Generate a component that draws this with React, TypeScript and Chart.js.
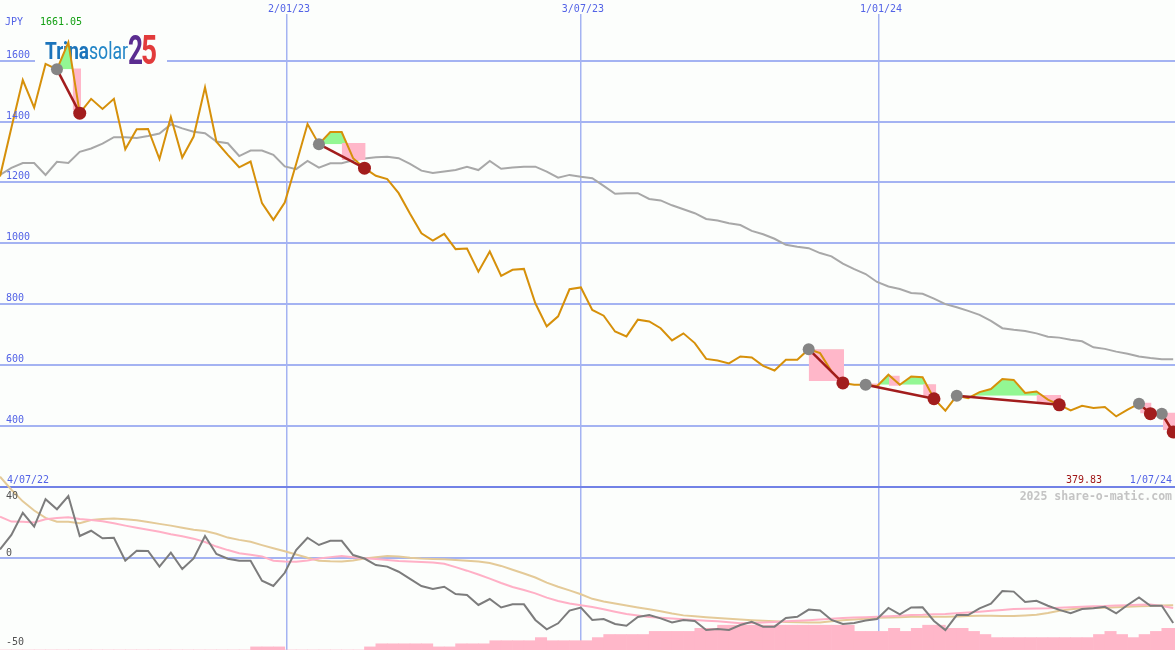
import React, { useEffect, useRef } from 'react';
import { Chart, registerables } from 'chart.js';

Chart.register(...registerables);

// ---------------- data ----------------
// weekly closes (JPY), week index 0 .. 103
const price = [
  1220, 1380, 1537, 1446, 1590, 1572, 1661.05, 1428, 1475, 1442,
  1475, 1309, 1375, 1376, 1277, 1415, 1282, 1351, 1513, 1334,
  1291, 1250, 1269, 1132, 1077, 1134, 1261, 1392, 1326, 1366,
  1366, 1280, 1247, 1222, 1211, 1165, 1097, 1033, 1009, 1031,
  981, 983, 907, 973, 893, 913, 916, 803, 727, 760,
  849, 855, 781, 762, 710, 694, 749, 743, 721, 681,
  704, 672, 620, 615, 605, 628, 625, 597, 582, 617,
  617, 652, 639, 579, 541, 535, 535, 530, 568, 535,
  562, 560, 489, 450, 499, 491, 511, 521, 554, 551,
  508, 513, 486, 469, 451, 466, 459, 462, 431, 453,
  473, 440, 440, 379.83,
];

// moving average (grey)
const movingAvg = [
  1225, 1248, 1264, 1264, 1225, 1268, 1264, 1301, 1312, 1328,
  1349, 1349, 1346, 1353, 1361, 1391, 1378, 1367, 1362, 1335,
  1329, 1287, 1305, 1305, 1291, 1253, 1244, 1271, 1249, 1263,
  1263, 1273, 1279, 1283, 1285, 1280, 1261, 1239, 1231, 1236,
  1241, 1252, 1241, 1271, 1245, 1249, 1252, 1252, 1236, 1216,
  1225, 1219, 1214, 1189, 1163, 1165, 1165, 1146, 1141, 1125,
  1112, 1099, 1080, 1075, 1066, 1060, 1041, 1030, 1015, 995,
  989, 984, 968, 957, 933, 915, 899, 873, 858, 850,
  837, 834, 818, 800, 790, 778, 765, 745, 721, 716,
  712, 704, 693, 690, 683, 678, 658, 653, 644, 637,
  628, 623, 619, 619,
];

// lower panel: oscillator (dark grey)
const oscillator = [
  4.9, 13.1, 25.7, 17.8, 33.4, 27.7, 35.2, 12.5, 15.5, 11.2,
  11.5, -1.5, 4.1, 4.0, -4.9, 3.0, -6.3, -0.2, 12.5, 2.3,
  -0.4, -1.5, -1.5, -12.9, -15.9, -8.4, 4.5, 11.5, 7.4, 9.8,
  9.8, 1.7, -0.3, -4.0, -4.9, -7.8, -11.9, -15.9, -17.6, -16.3,
  -20.5, -21.0, -26.7, -23.3, -28.1, -26.3, -26.3, -35.2, -40.5, -37.1,
  -29.9, -28.2, -35.2, -34.7, -37.5, -38.5, -33.5, -32.4, -34.3, -36.6,
  -35.2, -35.8, -40.9, -40.3, -40.9, -38.1, -36.2, -39.0, -39.0, -34.1,
  -33.4, -29.3, -29.8, -35.2, -37.5, -36.9, -35.5, -34.7, -28.4, -32.0,
  -28.1, -28.0, -35.8, -40.9, -32.4, -32.4, -28.6, -25.9, -18.8, -19.1,
  -25.0, -24.3, -27.1, -29.5, -31.4, -29.0, -28.6, -27.7, -31.4, -26.7,
  -22.4, -27.1, -27.1, -36.9,
];

// lower panel: pink signal line
const signalPink = [
  23.5, 20.7, 20.6, 20.2, 22.0, 22.7, 23.1, 22.2, 21.6, 20.9,
  19.7, 18.4, 17.2, 16.1, 14.9, 13.5, 12.3, 11.0, 9.1, 6.5,
  4.5, 2.7, 1.9, 0.9, -1.5, -2.0, -2.1, -1.4, -0.3, 0.5,
  1.1, 0.4, -0.2, -0.6, -1.1, -1.7, -2.0, -2.3, -2.6, -3.3,
  -5.2, -7.2, -9.4, -11.7, -14.2, -16.5, -18.2, -20.1, -22.5, -24.4,
  -25.9, -26.8, -27.9, -29.1, -30.5, -31.8, -32.7, -33.5, -33.9, -34.4,
  -34.8, -35.2, -35.6, -36.0, -36.5, -37.1, -36.9, -36.7, -36.4, -36.0,
  -35.7, -35.3, -34.9, -34.5, -34.1, -33.8, -33.6, -33.4, -33.1, -32.8,
  -32.4, -32.3, -32.0, -31.8, -31.4, -31.0, -30.5, -30.0, -29.5, -29.0,
  -28.9, -28.7, -28.6, -28.3, -28.0, -27.7, -27.4, -27.3, -27.0, -26.8,
  -26.5, -26.4, -27.3, -28.4,
];

// lower panel: tan signal line
const signalTan = [
  46.2, 38.8, 32.2, 27.0, 22.8, 20.6, 20.6, 19.8, 21.6, 22.2,
  22.5, 22.0, 21.4, 20.5, 19.4, 18.4, 17.2, 16.0, 15.3, 13.8,
  11.6, 10.3, 9.2, 7.3, 5.5, 3.8, 2.0, 0.1, -1.6, -1.9,
  -2.0, -1.4, -0.3, 0.5, 1.1, 0.8, 0.1, -0.3, -0.5, -0.7,
  -1.1, -1.6, -2.0, -2.8, -4.5, -6.7, -8.8, -11.1, -14.0, -16.3,
  -18.4, -20.6, -23.2, -24.7, -25.9, -27.0, -28.1, -29.1, -30.2, -31.5,
  -32.6, -33.1, -33.6, -34.1, -34.5, -35.0, -35.4, -35.7, -36.0, -36.3,
  -36.5, -36.7, -36.6, -35.9, -35.4, -34.9, -34.5, -34.0, -33.8, -33.6,
  -33.4, -33.4, -33.4, -33.4, -33.2, -33.0, -32.8, -32.8, -32.9, -33.0,
  -32.6, -32.3, -31.3, -30.0, -29.1, -28.6, -28.4, -28.2, -28.0, -27.7,
  -27.4, -27.2, -27.0, -26.8,
];

// lower panel: pink histogram (counts)
const histogram = [
  0, 0, 0, 0, 0, 0, 0, 0, 0, 0,
  0, 0, 0, 0, 0, 0, 0, 0, 0, 0,
  0, 0, 1, 1, 1, 0, 0, 0, 0, 0,
  0, 0, 1, 2, 2, 2, 2, 2, 1, 1,
  2, 2, 2, 3, 3, 3, 3, 4, 3, 3,
  3, 3, 4, 5, 5, 5, 5, 6, 6, 6,
  6, 7, 7, 8, 8, 8, 8, 8, 8, 8,
  8, 8, 8, 8, 8, 6, 6, 6, 7, 6,
  7, 8, 8, 7, 7, 6, 5, 4, 4, 4,
  4, 4, 4, 4, 4, 4, 5, 6, 5, 4,
  5, 6, 7, 7,
];

// trades (week indices)
const tradeEntry = [5, 28, 71, 76, 84, 100, 102];
const tradeExit = [7, 32, 74, 82, 93, 101, 103];

// drawdown boxes (week start, week end, top price, bottom price)
const boxStart = [6.38, 30.0, 71.0, 76.1, 78.05, 81.05, 91.0, 100.1, 102.1];
const boxEnd = [7.12, 32.1, 74.1, 77.25, 79.0, 82.2, 93.15, 101.1, 103.3];
const boxTop = [1575, 1330, 652, 539, 565, 537, 501, 476, 443];
const boxBottom = [1438, 1274, 547, 531, 532, 497, 476, 441, 386];

// axis labels
const dateTickPos = [25.2, 51.0, 77.17];
const dateTickLabels = ['2/01/23', '3/07/23', '1/01/24'];
const priceTicks = [200, 400, 600, 800, 1000, 1200, 1400, 1600];
const priceTickLabels = [400, 600, 800, 1000, 1200, 1400, 1600];
const oscTickLabels = [40, 0, -50];
const startLabel = '4/07/22';
const endLabel = '1/07/24';
const currency = 'JPY';
const watermark = '2025 share-o-matic.com';

// ---------------- styles ----------------
const BG = '#fcfefc';
const GRID = '#a4b3f2';
const SEP = '#7282e6';
const BLUE_TXT = '#5363e6';
const PRICE_COL = '#d6900a';
const MA_COL = '#a8a8a8';
const OSC_COL = '#7c7c7c';
const PINK_LINE = '#ffb0c6';
const TAN_LINE = '#e4ca98';
const PINK_FILL = '#ffb7c9';
const GREEN_FILL = '#93f793';
const TRADE_COL = '#a21d1d';
const ENTRY_DOT = '#858585';

const X_MAX = 103.16;
const MONO = '"DejaVu Sans Mono", monospace';

function drawLogo(ctx: CanvasRenderingContext2D) {
  ctx.save();
  ctx.fillStyle = BG;
  ctx.fillRect(35, 35, 132, 35);
  const fitText = (txt: string, font: string, x: number, base: number, w: number, fill: string | CanvasGradient) => {
    ctx.font = font;
    const m = ctx.measureText(txt).width;
    ctx.save();
    ctx.translate(x, base);
    ctx.scale(w / m, 1);
    ctx.fillStyle = fill;
    ctx.textAlign = 'left';
    ctx.textBaseline = 'alphabetic';
    ctx.fillText(txt, 0, 0);
    ctx.restore();
  };
  fitText('Trina', 'bold 24px Roboto', 45, 59, 44, '#1b74bb');
  fitText('solar', '24px Roboto', 89, 59, 39, '#2386c7');
  const g2 = ctx.createLinearGradient(128, 37, 144, 67);
  g2.addColorStop(0, '#5b2d90');
  g2.addColorStop(0.5, '#2f63b5');
  g2.addColorStop(1, '#d8235a');
  fitText('2', 'bold 40px Roboto', 128, 64, 15, g2);
  const g5 = ctx.createLinearGradient(141, 37, 157, 67);
  g5.addColorStop(0, '#e23b3b');
  g5.addColorStop(0.5, '#f0a02c');
  g5.addColorStop(1, '#2a9ad8');
  fitText('5', 'bold 40px Roboto', 141, 64, 16, g5);
  ctx.restore();
}

const overlayPlugin = {
  id: 'overlay',
  beforeDraw(chart: any) {
    const { ctx, width, height } = chart;
    ctx.save();
    ctx.fillStyle = BG;
    ctx.fillRect(0, 0, width, height);
    ctx.restore();
  },
  beforeDatasetsDraw(chart: any) {
    drawLogo(chart.ctx);
  },
  afterDraw(chart: any) {
    const ctx: CanvasRenderingContext2D = chart.ctx;
    const xs = chart.scales.x;
    const yP = chart.scales.yP;
    const yO = chart.scales.yO;
    ctx.save();
    ctx.font = '10px ' + MONO;
    ctx.textBaseline = 'alphabetic';

    // currency + max price
    ctx.textAlign = 'left';
    ctx.fillStyle = BLUE_TXT;
    ctx.fillText(currency, 5, 25);
    ctx.fillStyle = '#14a014';
    ctx.fillText(Math.max(...price).toFixed(2), 40, 25);

    // price tick labels
    ctx.fillStyle = BLUE_TXT;
    priceTickLabels.forEach((v) => {
      ctx.fillText(String(v), 6, yP.getPixelForValue(v) - 3);
    });

    // date labels at top
    ctx.textAlign = 'center';
    dateTickPos.forEach((p, i) => {
      const x = xs.getPixelForValue(p) + 2;
      const w = ctx.measureText(dateTickLabels[i]).width;
      ctx.fillStyle = BG;
      ctx.fillRect(x - w / 2 - 1, 0, w + 2, 14);
      ctx.fillStyle = BLUE_TXT;
      ctx.fillText(dateTickLabels[i], x, 12);
    });

    // bottom row of top panel
    const sepY = yP.getPixelForValue(200);
    ctx.textAlign = 'left';
    ctx.fillStyle = BLUE_TXT;
    ctx.fillText(startLabel, 7, sepY - 4);
    ctx.textAlign = 'right';
    ctx.fillText(endLabel, 1172, sepY - 4);
    ctx.fillStyle = '#a01818';
    ctx.fillText(price[price.length - 1].toFixed(2), 1102, sepY - 4);

    // watermark
    ctx.font = 'bold 11.5px ' + MONO;
    ctx.fillStyle = '#c4c4c4';
    ctx.fillText(watermark, 1172, sepY + 13);

    // oscillator labels
    ctx.font = '10px ' + MONO;
    ctx.textAlign = 'left';
    ctx.fillStyle = '#505050';
    oscTickLabels.forEach((v) => {
      const py = yO.getPixelForValue(v);
      const off = v >= 40 ? 11 : v <= -50 ? -1 : -2;
      ctx.fillText(String(v), 6, py + off);
    });
    ctx.restore();
  },
};

function buildDatasets() {
  const pts = (arr: number[]) => arr.map((v, i) => ({ x: i, y: v }));
  const ds: any[] = [];
  const base = { pointRadius: 0, tension: 0, fill: false };

  // trade markers
  ds.push({
    type: 'line', showLine: false, yAxisID: 'yP', order: 0,
    data: tradeExit.map((i) => ({ x: i, y: price[i] })),
    pointRadius: 6.5, pointBackgroundColor: TRADE_COL, pointBorderWidth: 0,
    borderColor: 'rgba(0,0,0,0)',
  });
  ds.push({
    type: 'line', showLine: false, yAxisID: 'yP', order: 0,
    data: tradeEntry.map((i) => ({ x: i, y: price[i] })),
    pointRadius: 6, pointBackgroundColor: ENTRY_DOT, pointBorderWidth: 0,
    borderColor: 'rgba(0,0,0,0)',
  });
  // trade lines
  tradeEntry.forEach((a, k) => {
    const b = tradeExit[k];
    ds.push({
      ...base, type: 'line', yAxisID: 'yP', order: 1,
      data: [{ x: a, y: price[a] }, { x: b, y: price[b] }],
      borderColor: TRADE_COL, borderWidth: 2.5,
    });
  });
  // price
  ds.push({
    ...base, type: 'line', yAxisID: 'yP', order: 2,
    data: pts(price), borderColor: PRICE_COL, borderWidth: 2,
  });
  // drawdown boxes
  boxStart.forEach((s, k) => {
    ds.push({
      ...base, type: 'line', yAxisID: 'yP', order: 3,
      data: [{ x: s, y: boxTop[k] }, { x: boxEnd[k], y: boxTop[k] }],
      borderColor: 'rgba(0,0,0,0)', borderWidth: 1,
      backgroundColor: PINK_FILL,
      fill: { target: { value: boxBottom[k] } },
    });
  });
  // gains above entry level
  tradeEntry.forEach((a, k) => {
    const b = tradeExit[k];
    const seg = [];
    for (let i = a; i <= b; i++) seg.push({ x: i, y: price[i] });
    ds.push({
      ...base, type: 'line', yAxisID: 'yP', order: 4,
      data: seg, borderColor: 'rgba(0,0,0,0)', borderWidth: 1,
      fill: { target: { value: price[a] }, above: GREEN_FILL, below: 'rgba(0,0,0,0)' },
    });
  });
  // moving average
  ds.push({
    ...base, type: 'line', yAxisID: 'yP', order: 5,
    data: pts(movingAvg), borderColor: MA_COL, borderWidth: 2,
  });
  // oscillator panel
  ds.push({
    ...base, type: 'line', yAxisID: 'yO', order: 6,
    data: pts(oscillator), borderColor: OSC_COL, borderWidth: 2,
  });
  ds.push({
    ...base, type: 'line', yAxisID: 'yO', order: 7,
    data: pts(signalPink), borderColor: PINK_LINE, borderWidth: 2,
  });
  ds.push({
    ...base, type: 'line', yAxisID: 'yO', order: 8,
    data: pts(signalTan), borderColor: TAN_LINE, borderWidth: 2,
  });
  ds.push({
    type: 'bar', yAxisID: 'yB', order: 9,
    data: histogram.map((v, i) => ({ x: i + 0.5, y: v })),
    backgroundColor: PINK_FILL, borderWidth: 0,
    barPercentage: 1, categoryPercentage: 1,
  });
  return ds;
}

export default function App() {
  const ref = useRef<HTMLCanvasElement>(null);
  useEffect(() => {
    const canvas = ref.current;
    if (!canvas) return;
    const chart = new Chart(canvas, {
      type: 'line',
      data: { datasets: buildDatasets() },
      options: {
        animation: false,
        responsive: false,
        devicePixelRatio: 1,
        events: [],
        layout: { padding: 0, autoPadding: false },
        plugins: {
          legend: { display: false },
          tooltip: { enabled: false },
          title: { display: false },
        },
        scales: {
          x: {
            type: 'linear',
            min: 0,
            max: X_MAX,
            offset: false,
            bounds: 'data',
            afterBuildTicks: (s: any) => {
              s.ticks = dateTickPos.map((v) => ({ value: v }));
            },
            ticks: { display: false },
            grid: { color: GRID, lineWidth: 1.5, drawTicks: false, offset: false },
            border: { display: false },
          },
          yP: {
            type: 'linear',
            position: 'left',
            min: -337,
            max: 1800,
            afterBuildTicks: (s: any) => {
              s.ticks = priceTicks.map((v) => ({ value: v }));
            },
            ticks: { display: false },
            grid: {
              color: (c: any) => (c.tick && c.tick.value === 200 ? SEP : GRID),
              lineWidth: 2,
              drawTicks: false,
            },
            border: { display: false },
          },
          yO: {
            type: 'linear',
            position: 'left',
            min: -52.27,
            max: 317.05,
            afterBuildTicks: (s: any) => {
              s.ticks = [{ value: 0 }];
            },
            ticks: { display: false },
            grid: { color: GRID, lineWidth: 2, drawTicks: false },
            border: { display: false },
          },
          yB: {
            type: 'linear',
            display: false,
            min: 0,
            max: 209.7,
          },
        },
      } as any,
      plugins: [overlayPlugin],
    });
    return () => chart.destroy();
  }, []);
  return (
    <div style={{ position: 'absolute', left: 0, top: 0, width: 1175, height: 650 }}>
      <canvas ref={ref} width={1175} height={650} style={{ display: 'block', width: 1175, height: 650 }} />
    </div>
  );
}
